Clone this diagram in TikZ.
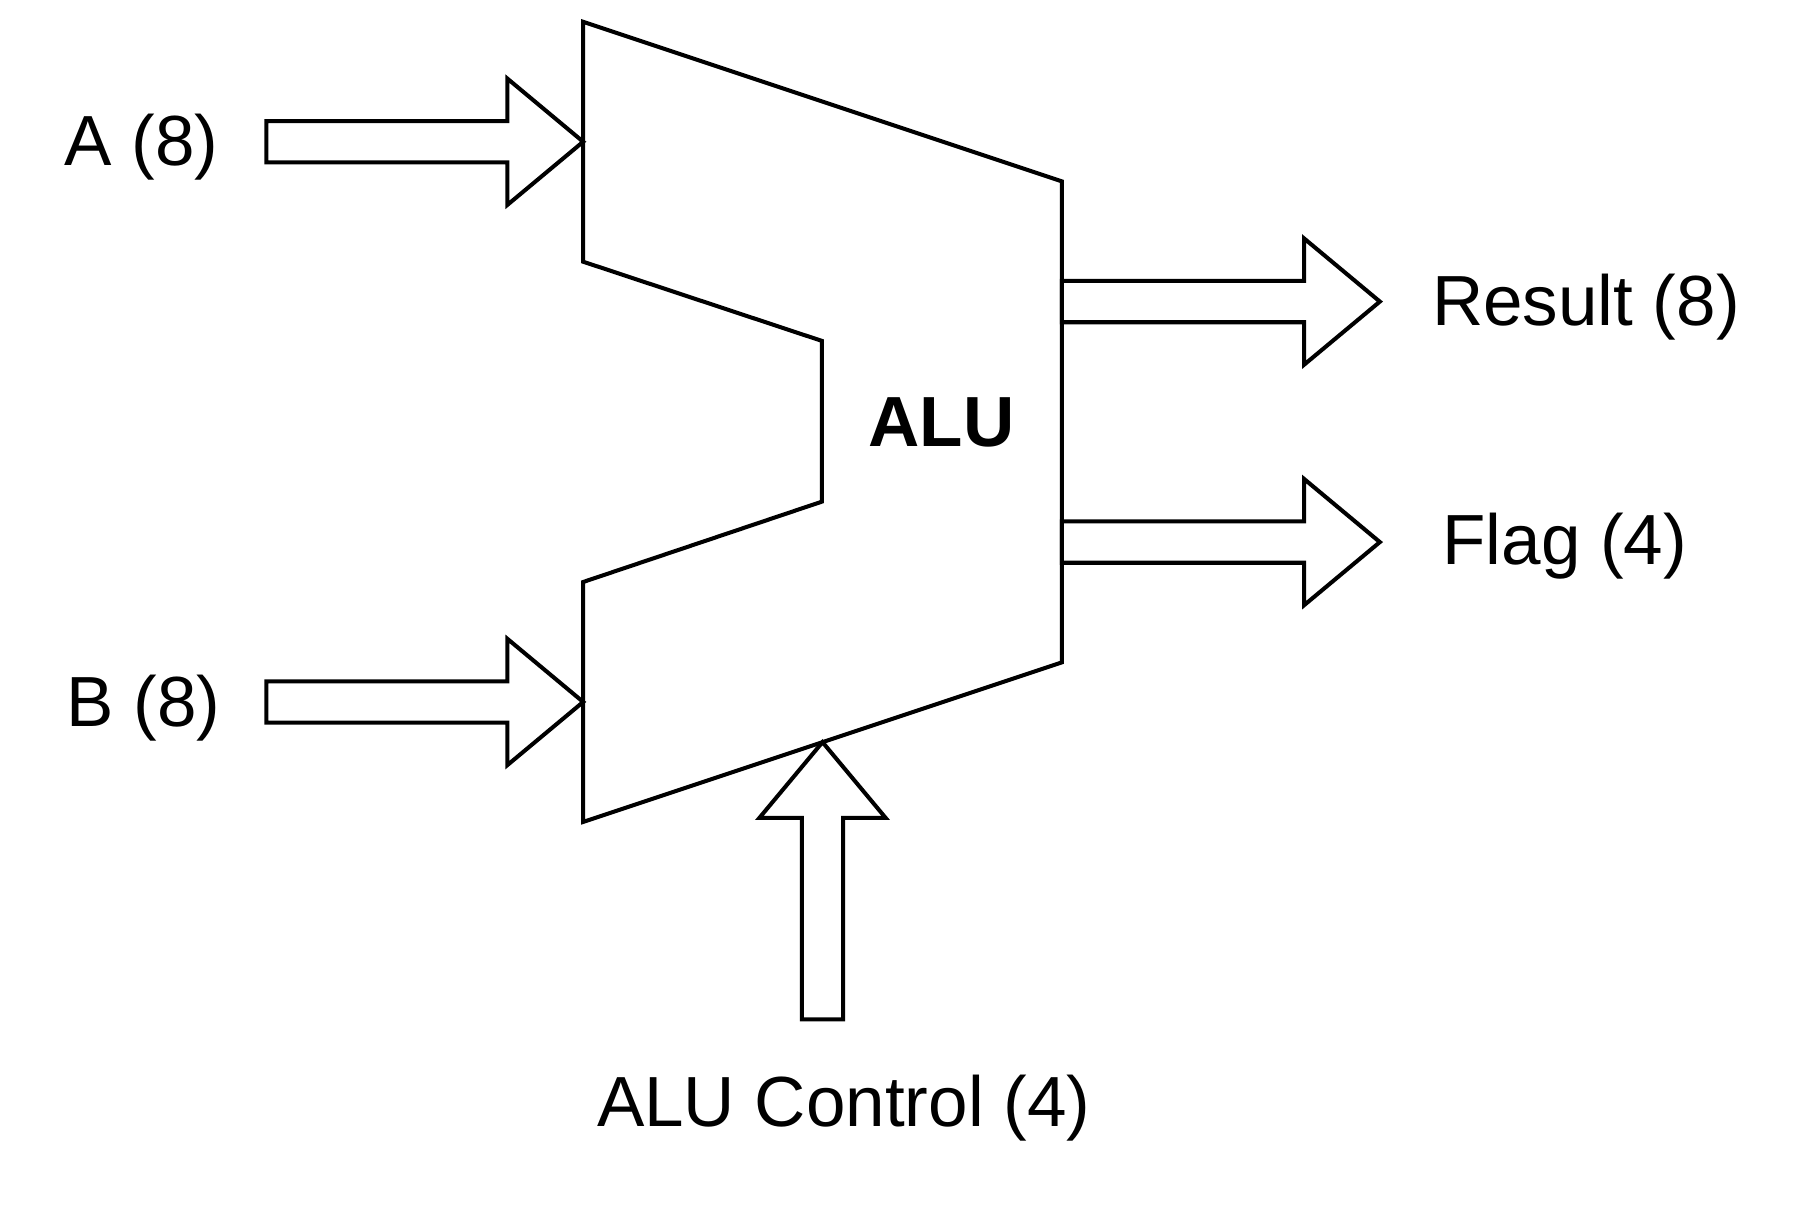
\documentclass[tikz,border=0pt]{standalone}
\usepackage{fontspec}
\setmainfont{Liberation Sans}
\usetikzlibrary{calc}
\tikzset{
  bus/.style={draw, line width=1pt, line join=miter},
  lbl/.style={font=\fontsize{17.6}{21}\selectfont, anchor=base, inner sep=0pt},
  pics/busarrow/.style={code={
    \draw[bus] (0,0) -- (-0.66,0.55) -- (-0.66,0.18) -- (-#1,0.18) -- (-#1,-0.18)
      -- (-0.66,-0.18) -- (-0.66,-0.55) -- cycle;}}
}
\begin{document}
\begin{tikzpicture}
  \useasboundingbox (0,0) rectangle (15.68,10.49);
  % ALU body
  \coordinate (tl) at (5.08,10.30);
  \coordinate (tr) at (9.25,8.91);
  \coordinate (br) at (9.25,4.72);
  \coordinate (bl) at (5.08,3.33);
  \coordinate (nb) at (5.08,5.42);
  \coordinate (ib) at (7.16,6.12);
  \coordinate (it) at (7.16,7.52);
  \coordinate (nt) at (5.08,8.21);
  \draw[bus] (tl) -- (tr) -- (br) -- (bl) -- (nb) -- (ib) -- (it) -- (nt) -- cycle;
  \node[lbl, font=\fontsize{17.6}{21}\selectfont\bfseries] (alu) at (8.20,6.60) {ALU};

  % buses
  \coordinate (inA) at ($(tl)!0.5!(nt)$);
  \coordinate (inB) at ($(nb)!0.5!(bl)$);
  \coordinate (ctl) at ($(bl)!0.5!(br)$);
  \coordinate (res) at ($(tr)!0.25!(br) + (2.77,0)$);
  \coordinate (flg) at ($(tr)!0.75!(br) + (2.77,0)$);
  \pic at (inA) {busarrow=2.76};
  \pic at (inB) {busarrow=2.76};
  \pic at (res) {busarrow=2.77};
  \pic at (flg) {busarrow=2.77};
  \pic[rotate=90] at (ctl) {busarrow=2.415};

  % labels
  \node[lbl] (a) at (1.235,9.044) {A (8)};
  \node[lbl] (b) at (1.25,4.164) {B (8)};
  \node[lbl] (result) at (13.815,7.65) {Result (8)};
  \node[lbl] (flag) at (13.63,5.57) {Flag (4)};
  \node[lbl] (control) at (7.35,0.675) {ALU Control (4)};
\end{tikzpicture}
\end{document}
